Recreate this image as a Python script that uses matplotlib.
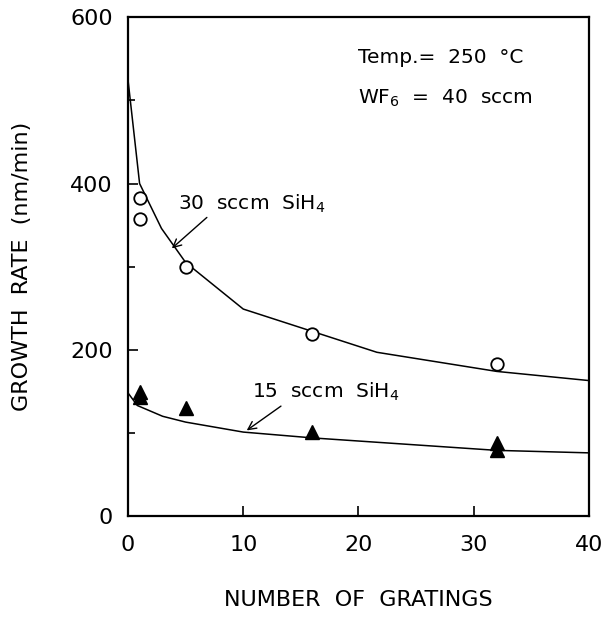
import numpy as np
import matplotlib.pyplot as plt

# measured points
x_30 = [1, 1, 5, 16, 32]
y_30 = [383, 357, 300, 219, 183]
x_15 = [1, 1, 5, 16, 32, 32]
y_15 = [149, 143, 130, 101, 88, 79]

# fitted curves (as drawn)
cx_30 = [0, 1, 2.9, 5, 10, 21.6, 32, 40]
cy_30 = [524, 400, 346, 305, 249, 197, 174, 163]
cx_15 = [0, 0.8, 3, 5, 10, 16, 32, 40]
cy_15 = [148, 133, 120, 113, 101, 94, 79, 76]

plt.rcParams['font.family'] = 'DejaVu Sans'
fig = plt.figure(figsize=(6.07, 6.18), dpi=100)
ax = fig.add_axes([0.211, 0.165, 0.759, 0.807])

ax.plot(cx_30, cy_30, color='black', lw=1.1)
ax.plot(cx_15, cy_15, color='black', lw=1.1)
ax.plot(x_30, y_30, 'o', mfc='white', mec='black', ms=9, mew=1.3, ls='none')
ax.plot(x_15, y_15, '^', color='black', ms=9.5, ls='none')

ax.set_xlim(0, 40)
ax.set_ylim(0, 600)
ax.set_xticks([0, 10, 20, 30, 40])
ax.set_yticks([0, 200, 400, 600])
ax.set_yticks([100, 300, 500], minor=True)
ax.tick_params(direction='in', length=7, width=1.2, labelsize=16)
ax.tick_params(axis='x', pad=14)
ax.tick_params(axis='y', pad=11)
ax.tick_params(which='minor', direction='in', length=5, width=1.2)
for s in ax.spines.values():
    s.set_linewidth(1.6)

ax.set_xlabel('NUMBER  OF  GRATINGS', fontsize=16)
ax.set_ylabel('GROWTH  RATE  (nm/min)', fontsize=16)
ax.xaxis.set_label_coords(0.499, -0.148)
ax.yaxis.set_label_coords(-0.208, 0.5)

fs = 14.5
ax.text(20, 552, 'Temp.=  250  °C', fontsize=fs, va='center')
ax.text(20, 502, 'WF$_6$  =  40  sccm', fontsize=fs, va='center')

ax.annotate('30  sccm  SiH$_4$', xy=(3.8, 322), xytext=(4.3, 376),
            fontsize=fs, va='center',
            arrowprops=dict(arrowstyle='->', lw=1, color='black',
                            shrinkA=0, shrinkB=0, relpos=(0.22, 0)))
ax.annotate('15  sccm  SiH$_4$', xy=(10.3, 103), xytext=(10.8, 149),
            fontsize=fs, va='center',
            arrowprops=dict(arrowstyle='->', lw=1, color='black',
                            shrinkA=0, shrinkB=0, relpos=(0.22, 0)))

fig.savefig('out.png', dpi=100)
